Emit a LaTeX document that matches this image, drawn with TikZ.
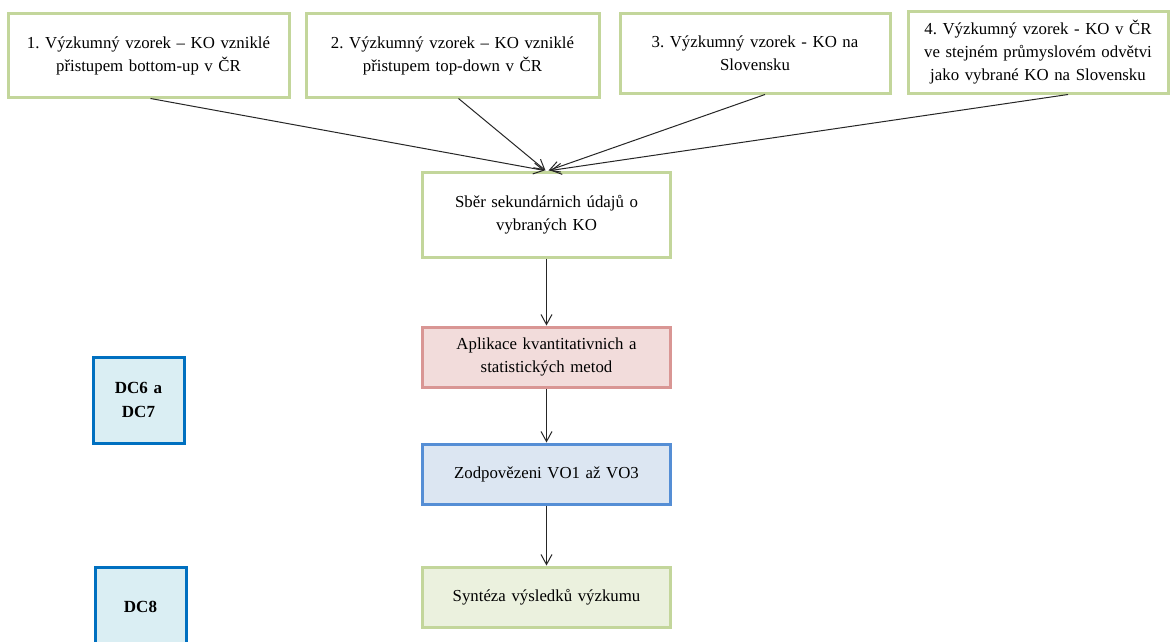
\documentclass[tikz,border=0pt]{standalone}
\usepackage{fontspec}
\setmainfont{Liberation Serif}
\frenchspacing
\usetikzlibrary{arrows.meta}
\definecolor{boxgreen}{HTML}{C3D69B}
\definecolor{fillgreen}{HTML}{EBF1DE}
\definecolor{boxred}{HTML}{D99694}
\definecolor{fillred}{HTML}{F2DCDB}
\definecolor{boxblue}{HTML}{558ED5}
\definecolor{fillblue}{HTML}{DCE6F2}
\definecolor{dcblue}{HTML}{0070C0}
\definecolor{dcfill}{HTML}{DAEEF3}
\definecolor{linegray}{HTML}{262626}
\begin{document}
\begin{tikzpicture}[x=1pt,y=-1pt,
  every node/.style={inner sep=0pt, align=center,
    font=\fontsize{16.8}{23}\selectfont},
  basebox/.style={draw, line width=3pt, minimum width=#1, text width=#1-20},
  sample/.style={basebox=#1, draw=boxgreen, fill=white},
  stagegreen/.style={basebox=248, draw=boxgreen, fill=fillgreen, minimum height=60},
  stagered/.style={basebox=248, draw=boxred, fill=fillred, minimum height=60},
  stageblue/.style={basebox=248, draw=boxblue, fill=fillblue, minimum height=60},
  dcbox/.style={draw=dcblue, fill=dcfill, line width=3pt, minimum width=91,
    text width=80, font=\fontsize{17}{24}\selectfont\bfseries},
  flow/.style={draw=linegray, line width=1pt,
    -{Straight Barb[length=10pt,width=11pt,line width=1pt]}}]
\useasboundingbox (0,0) rectangle (1170,642);
\fill[white] (0,0) rectangle (1170,642);

% four research samples
\node[sample=281, minimum height=83] (s1) at (148.5,55.5)
  {1. Výzkumný vzorek – KO vzniklé\\přistupem bottom-up v ČR};
\node[sample=293, minimum height=83] (s2) at (452.5,55.5)
  {2. Výzkumný vzorek – KO vzniklé\\přistupem top-down v ČR};
\node[sample=270, minimum height=79] (s3) at (755,53.5)
  {3. Výzkumný vzorek - KO na\\Slovensku};
\node[sample=260, minimum height=81] (s4) at (1038,52.5)
  {4. Výzkumný vzorek - KO v ČR\\ve stejném průmyslovém odvětvi\\jako vybrané KO na Slovensku};

% main process chain
\node[sample=248, minimum height=85] (collect) at (546.5,214.5)
  {Sběr sekundárnich údajů o\\vybraných KO};
\node[stagered] (methods) at (546.5,357)
  {Aplikace kvantitativnich a\\statistických metod};
\node[stageblue] (answer) at (546.5,474)
  {Zodpovězeni VO1 až VO3};
\node[stagegreen] (synth) at (546.5,597)
  {Syntéza výsledků výzkumu};

% sub-goal markers
\node[dcbox, minimum height=86] (dc67) at (138.5,400) {DC6 a\\DC7};
\node[dcbox, minimum height=80] (dc8) at (140.5,607) {DC8};

% connectors
\coordinate (in1) at ([xshift=-2]collect.north);
\coordinate (in2) at ([xshift=-1]collect.north);
\coordinate (in3) at ([xshift=2]collect.north);
\coordinate (in4) at ([xshift=4]collect.north);
\draw[flow] ([xshift=2]s1.south) -- (in1);
\draw[flow] ([xshift=6]s2.south) -- (in2);
\draw[flow] ([xshift=10]s3.south) -- (in3);
\draw[flow] ([xshift=30]s4.south) -- (in4);
\draw[flow] (collect) -- (methods);
\draw[flow] (methods) -- (answer);
\draw[flow] (answer) -- (synth);
\end{tikzpicture}
\end{document}
